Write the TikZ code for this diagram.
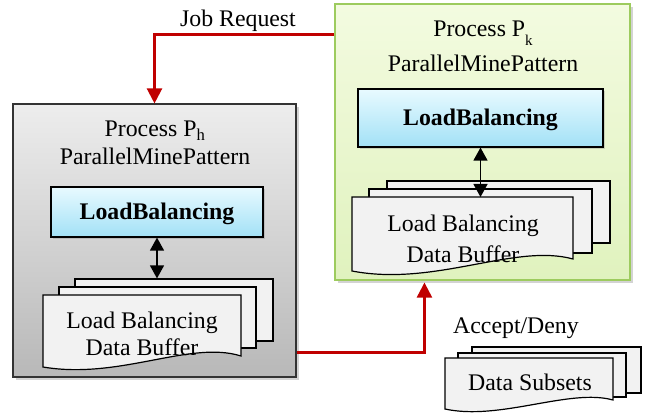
\documentclass[tikz,border=0pt]{standalone}
\usepackage{fontspec}
\setmainfont{Liberation Serif}
\usetikzlibrary{arrows.meta,shadows,calc}
\definecolor{redline}{HTML}{C00000}
\definecolor{greyTop}{HTML}{EDEDED}
\definecolor{greyBot}{HTML}{B8B8B8}
\definecolor{greenTop}{HTML}{F3FBE0}
\definecolor{greenBot}{HTML}{E0F2BE}
\definecolor{greenEdge}{HTML}{9DCB5E}
\definecolor{cyanTop}{HTML}{E8FAFF}
\definecolor{cyanBot}{HTML}{A2E1F6}
\definecolor{pageFill}{HTML}{F2F2F2}
\tikzset{
  txt/.style={font=\fontsize{23.8}{28}\selectfont, inner sep=0pt, anchor=base},
  procbox/.style={draw=black!80, line width=1.1pt, drop shadow={opacity=0.35, shadow xshift=3pt, shadow yshift=-3pt}},
  lbbox/.style={draw=black, line width=1.2pt, top color=cyanTop, bottom color=cyanBot, drop shadow={opacity=0.3, shadow xshift=2pt, shadow yshift=-2pt}},
  page/.style={draw=black, line width=1.2pt, fill=pageFill},
  redarrow/.style={draw=redline, line width=2.2pt, -{Triangle[length=15pt,width=15pt]}},
  dblarrow/.style={draw=black, line width=1.3pt, {Triangle[length=13pt,width=14pt]}-{Triangle[length=13pt,width=14pt]}},
}
\begin{document}
\begin{tikzpicture}[x=1pt,y=-1pt]
\useasboundingbox (0,0) rectangle (646,417);
% ---- left process box
\node[procbox, top color=greyTop, bottom color=greyBot, minimum width=283pt, minimum height=273pt, inner sep=0pt] (L) at (154.5,240.5) {};
\node[txt] (Lt1) at (155,137) {Process P\textsubscript{h}};
\node[txt] (Lt2) at (155,165) {ParallelMinePattern};
\node[lbbox, minimum width=212pt, minimum height=50pt, inner sep=0pt] (LBh) at (157,212) {};
\node[txt] (LBht) at (157,220) {\bfseries LoadBalancing};
% pages left
\node[page, minimum width=198pt, minimum height=62pt, inner sep=0pt] (hb3) at (174,310) {};
\node[page, minimum width=197pt, minimum height=61pt, inner sep=0pt] (hb2) at (157.5,317.5) {};
\coordinate (hf) at (43,295);
\draw[page] (hf) -- (241,295) -- (241,356) .. controls (190,340) and (120,380) .. (43,367) -- cycle;
\node[txt] (hft1) at (142,328) {Load Balancing};
\node[txt] (hft2) at (142,355) {Data Buffer};
\draw[dblarrow] (LBh.south) -- (LBh.south |- hb3.north);
% ---- right process box
\node[procbox, draw=greenEdge, top color=greenTop, bottom color=greenBot, minimum width=295pt, minimum height=276pt, inner sep=0pt] (R) at (482.5,142) {};
\node[txt] (Rt1) at (483,37) {Process P\raisebox{-9pt}{\fontsize{15}{18}\selectfont k}};
\node[txt] (Rt2) at (483,72) {ParallelMinePattern};
\node[lbbox, minimum width=245pt, minimum height=58pt, inner sep=0pt] (LBk) at (480.5,118) {};
\node[txt] (LBkt) at (480.5,126) {\bfseries LoadBalancing};
\node[page, minimum width=223pt, minimum height=62pt, inner sep=0pt] (kb3) at (498.5,212) {};
\node[page, minimum width=223pt, minimum height=64pt, inner sep=0pt] (kb2) at (480.5,221) {};
\coordinate (kf) at (352,197);
\draw[page] (kf) -- (573,197) -- (573,259) .. controls (515,243) and (435,287) .. (352,271) -- cycle;
\node[txt] (kft1) at (463,232) {Load Balancing};
\node[txt] (kft2) at (463,262) {Data Buffer};
\draw[dblarrow] (LBk.south) -- (LBk.south |- kf);
% ---- connectors
\draw[redarrow] ([yshift=-31pt]R.north west) -| (L.north);
\node[txt] (jr) at (238,27) {Job Request};
\draw[redarrow] ([yshift=25pt]L.south east) -| ([xshift=90pt, yshift=-2pt]R.south west);
% ---- data subsets
\node[txt] (ad) at (516,333) {Accept/Deny};
\node[page, minimum width=169pt, minimum height=46pt, inner sep=0pt] (ds3) at (556.5,370) {};
\node[page, minimum width=168pt, minimum height=44pt, inner sep=0pt] (ds2) at (542,375) {};
\coordinate (dsf) at (445,358);
\draw[page] (dsf) -- (613,358) -- (613,400) .. controls (570,388) and (500,421) .. (445,409) -- cycle;
\node[txt] (dst) at (530,390) {Data Subsets};
\end{tikzpicture}
\end{document}
